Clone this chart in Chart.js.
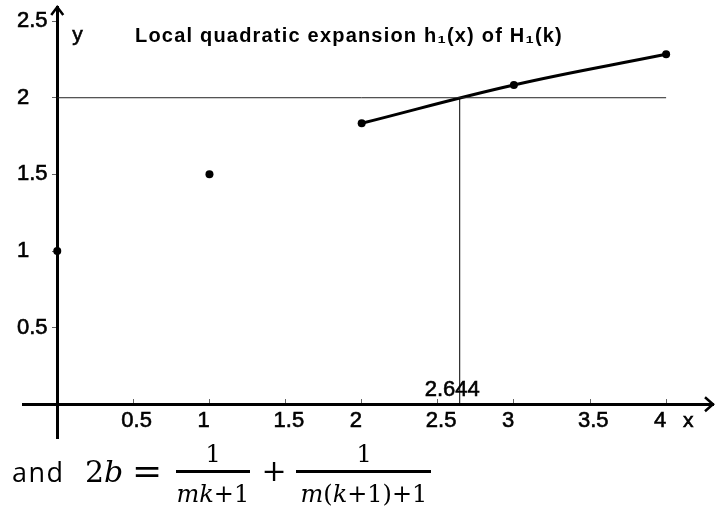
<!DOCTYPE html>
<html>
<head>
<meta charset="utf-8">
<script src="https://cdn.jsdelivr.net/npm/chart.js@4.4.1/dist/chart.umd.min.js"></script>
<style>
  html, body { margin: 0; padding: 0; background: #fff; }
  #wrap { position: relative; width: 725px; height: 506px; overflow: hidden; }
  #chart { position: absolute; left: 0; top: 0; }
  .t { position: absolute; left: 0; top: 0; white-space: nowrap; color: #000; }
  #title { font: bold 20px "Liberation Sans", Arial, sans-serif; letter-spacing: 1.2px; }
  #and { font: 27px "Open Sans", "Noto Sans", sans-serif; letter-spacing: 1.5px; }
  .m { font-family: "DejaVu Serif", "Liberation Serif", serif; font-size: 30px; }
  .m i { font-style: italic; }
  #eq { font-size: 36px; }
  .f { font-size: 24px; }
  .bar { position: absolute; background: #000; height: 3.5px; top: 469.5px; }
  #bar1 { left: 176px; width: 74px; }
  #bar2 { left: 296px; width: 135px; }
</style>
</head>
<body>
<div id="wrap">
  <canvas id="chart" width="725" height="506"></canvas>
  <div id="title" class="t">Local quadratic expansion h₁(x) of H₁(k)</div>
  <div id="and" class="t">and</div>
  <div id="lhs" class="t m">2<i>b</i></div>
  <div id="eq" class="t m">=</div>
  <div id="n1" class="t m f">1</div>
  <div id="bar1" class="bar"></div>
  <div id="d1" class="t m f"><i>mk</i>+1</div>
  <div id="plus" class="t m">+</div>
  <div id="n2" class="t m f">1</div>
  <div id="bar2" class="bar"></div>
  <div id="d2" class="t m f"><i>m</i>(<i>k</i>+1)+1</div>
</div>
<script>
// H1(k) values at k = 0..4
const kValues = [0, 1, 2, 3, 4];
const hValues = [1, 1.5, 1.8333, 2.0833, 2.2833];
// local quadratic piece h1(x), drawn through k = 2..4
const curveX = [2, 3, 4];
const curveY = [1.8333, 2.0833, 2.2833];
// level y = 2 and where the curve crosses it
const levelY = 2;
const levelX = [0, 4];
const crossX = 2.644;
const crossY = [0, 2];
// tick labels
const xTicks = [0.5, 1, 1.5, 2, 2.5, 3, 3.5, 4];
const yTicks = [0.5, 1, 1.5, 2, 2.5];

const yMin = -0.22, yMax = 2.592;
const tickFont = { family: '"Liberation Sans", Arial, sans-serif', size: 22 };

function noSpace(s) {
  s.paddingLeft = s.paddingRight = s.paddingTop = s.paddingBottom = 0;
}

// arrows, axis names and the 2.644 marker
const decor = {
  id: 'decor',
  afterDraw(chart) {
    const { ctx, chartArea: a, scales: { x, y } } = chart;
    const x0 = x.getPixelForValue(0);
    const y0 = y.getPixelForValue(0);
    ctx.save();
    ctx.strokeStyle = '#000';
    ctx.lineWidth = 2.5;
    ctx.beginPath();
    ctx.moveTo(a.right - 8, y0 - 7);
    ctx.lineTo(a.right, y0);
    ctx.lineTo(a.right - 8, y0 + 7);
    ctx.stroke();
    ctx.beginPath();
    ctx.moveTo(x0 - 6, a.top + 8);
    ctx.lineTo(x0, a.top);
    ctx.lineTo(x0 + 6, a.top + 8);
    ctx.stroke();

    ctx.fillStyle = '#000';
    ctx.lineWidth = 0.6;
    ctx.font = '21px "Liberation Sans", Arial, sans-serif';
    ctx.textBaseline = 'alphabetic';
    ctx.textAlign = 'left';
    ctx.fillText('y', x0 + 15, a.top + 34);
    ctx.strokeText('y', x0 + 15, a.top + 34);
    ctx.fillText('x', x.getPixelForValue(4) + 17, y0 + 22.5);
    ctx.strokeText('x', x.getPixelForValue(4) + 17, y0 + 22.5);

    ctx.font = '22px "Liberation Sans", Arial, sans-serif';
    ctx.textAlign = 'center';
    const lx = x.getPixelForValue(crossX) - 7.5;
    ctx.fillText(String(crossX), lx, y0 - 8.5);
    ctx.strokeText(String(crossX), lx, y0 - 8.5);
    ctx.restore();
  }
};

function drawChart() {
  new Chart(document.getElementById('chart'), {
    type: 'scatter',
    data: {
      datasets: [
        {
          type: 'line',
          data: levelX.map(v => ({ x: v, y: levelY })),
          borderColor: '#222',
          borderWidth: 1,
          pointRadius: 0
        },
        {
          type: 'line',
          data: crossY.map(v => ({ x: crossX, y: v })),
          borderColor: '#000',
          borderWidth: 1,
          pointRadius: 0
        },
        {
          type: 'line',
          data: curveX.map((v, i) => ({ x: v, y: curveY[i] })),
          borderColor: '#000',
          borderWidth: 3,
          tension: 0.4,
          pointRadius: 0
        },
        {
          data: kValues.map((v, i) => ({ x: v, y: hValues[i] })),
          backgroundColor: '#000',
          borderColor: '#000',
          pointRadius: 4,
          borderWidth: 0
        }
      ]
    },
    options: {
      responsive: false,
      animation: false,
      events: [],
      layout: { padding: { left: 23, right: 12, top: 7, bottom: 68 } },
      plugins: { legend: { display: false }, tooltip: { enabled: false } },
      scales: {
        x: {
          type: 'linear',
          min: -0.225,
          max: 4.308,
          position: { y: 0 },
          afterBuildTicks: s => { s.ticks = xTicks.map(v => ({ value: v })); },
          afterFit: s => { s.height = 0; noSpace(s); },
          grid: { drawOnChartArea: false, drawTicks: true, tickLength: -7, color: '#666', lineWidth: 1 },
          border: { color: '#000', width: 3 },
          ticks: { autoSkip: false, maxRotation: 0, padding: 10, align: 'start', labelOffset: -12,
                   color: '#000', font: tickFont, textStrokeColor: '#000', textStrokeWidth: 0.6,
                   callback: v => String(v) }
        },
        // y axis line and its tick marks, crossing at x = 0
        y: {
          type: 'linear',
          min: yMin,
          max: yMax,
          position: { x: 0 },
          afterBuildTicks: s => { s.ticks = yTicks.map(v => ({ value: v })); },
          afterFit: s => { s.width = 0; noSpace(s); },
          grid: { drawOnChartArea: false, drawTicks: true, tickLength: 4, color: '#666', lineWidth: 1 },
          border: { color: '#000', width: 3 },
          ticks: { display: false }
        },
        // y tick labels, left aligned near the canvas edge
        yl: {
          type: 'linear',
          min: yMin,
          max: yMax,
          position: 'left',
          afterBuildTicks: s => { s.ticks = yTicks.map(v => ({ value: v })); },
          afterFit: s => { s.width = 0; noSpace(s); },
          grid: { display: false },
          border: { display: false },
          ticks: { autoSkip: false, mirror: true, crossAlign: 'near', padding: -6, color: '#000',
                   font: tickFont, textStrokeColor: '#000', textStrokeWidth: 0.6,
                   callback: v => String(v) }
        }
      }
    },
    plugins: [decor]
  });
}

// put each text piece on its baseline
const textSpots = [
  ['title', 135, 41.7, 'left'],
  ['and', 12, 482, 'left'],
  ['lhs', 85, 482, 'left'],
  ['eq', 132, 483, 'left'],
  ['n1', 213, 462, 'center'],
  ['d1', 213, 501.5, 'center'],
  ['plus', 274, 481, 'center'],
  ['n2', 364, 462, 'center'],
  ['d2', 364, 501.5, 'center']
];

function placeText() {
  textSpots.forEach(([id, px, base, align]) => {
    const el = document.getElementById(id);
    const probe = document.createElement('span');
    probe.style.cssText = 'display:inline-block;width:0;height:0;vertical-align:baseline';
    el.appendChild(probe);
    const off = probe.offsetTop;
    el.removeChild(probe);
    el.style.top = (base - off) + 'px';
    el.style.left = (align === 'center' ? px - el.offsetWidth / 2 : px) + 'px';
  });
}

document.fonts.ready.then(() => {
  placeText();
  drawChart();
});
</script>
</body>
</html>
